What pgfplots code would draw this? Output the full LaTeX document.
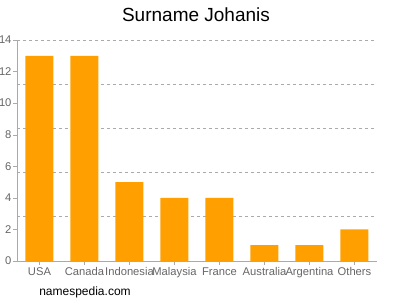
\documentclass[border=0pt]{standalone}
\usepackage{fontspec}
\setmainfont{Liberation Sans}
\usepackage{pgfplots}
\pgfplotsset{compat=1.18}
\definecolor{barorange}{HTML}{FFA000}
\definecolor{axgray}{HTML}{AAAAAA}
\definecolor{txtgray}{HTML}{666666}
\begin{document}
\begin{tikzpicture}[x=1pt,y=1pt]
\useasboundingbox (0,0) rectangle (400,300);
\begin{axis}[
  at={(17pt,39pt)}, anchor=south west,
  scale only axis, width=360pt, height=221pt,
  xmin=-0.5, xmax=7.5, ymin=0, ymax=14,
  axis x line*=bottom, axis y line*=left,
  axis line style={axgray},
  xtick=data,
  xticklabels={USA,Canada,Indonesia,Malaysia,France,Australia,Argentina,Others},
  ytick={0,2,4,6,8,10,12,14},
  extra y ticks={2.8,5.6,8.4,11.2,14},
  extra y tick labels={},
  extra y tick style={ymajorgrids=true, major tick length=0pt, grid style={axgray, dashed, line width=0.6pt}},
  tick style={axgray},
  major tick length=4pt,
  tick align=outside,
  ticklabel style={font=\fontsize{11.2}{13}\selectfont, text=txtgray},
  /pgf/number format/assume math mode=true,
  xticklabel style={yshift=1pt},
  yticklabel style={xshift=2pt},
  clip=false,
]
\addplot[ybar, bar width=28pt, fill=barorange, draw=none] coordinates {
(0,13) (1,13) (2,5) (3,4) (4,4) (5,1) (6,1) (7,2)};
\end{axis}
\node at (196,285) {\fontsize{19}{22}\selectfont Surname Johanis};
\node at (85,8) {\fontsize{12}{14}\selectfont namespedia.com};
\end{tikzpicture}
\end{document}
